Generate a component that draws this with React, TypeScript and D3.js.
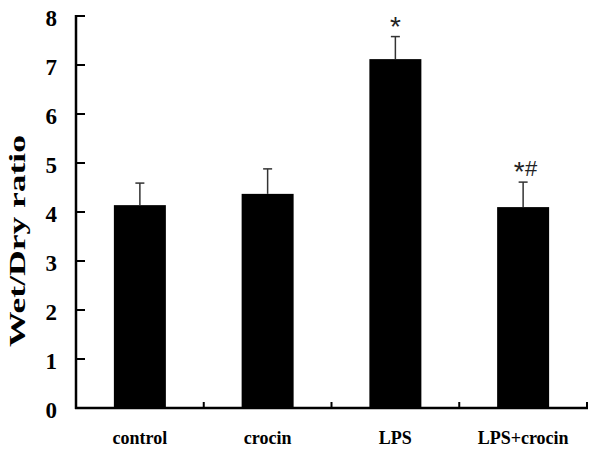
import React from "react";
import * as d3 from "d3";

const categories = ["control", "crocin", "LPS", "LPS+crocin"];
const means = [4.14, 4.37, 7.12, 4.1];
const errors = [0.45, 0.51, 0.46, 0.51];
const marks = ["", "", "*", "*#"];
const yTicks = [0, 1, 2, 3, 4, 5, 6, 7, 8];
const yLabel = "Wet/Dry ratio";

const W = 600;
const H = 452;
const left = 76;
const right = 587;
const top = 16;
const bottom = 408;

export default function App() {
  const x = d3
    .scaleBand<string>()
    .domain(categories)
    .range([left, right])
    .paddingInner(0.593)
    .paddingOuter(0.2965);
  const y = d3.scaleLinear().domain([0, 8]).range([bottom, top]);
  const step = x.step();
  const serif = "'Liberation Serif', 'Times New Roman', serif";
  const sans = "'Liberation Sans', Arial, sans-serif";

  return (
    <svg
      width={W}
      height={H}
      style={{ position: "absolute", left: 0, top: 0, background: "#fff" }}
    >
      {/* bars */}
      {categories.map((c, i) => (
        <rect
          key={c}
          x={x(c)}
          y={y(means[i])}
          width={x.bandwidth()}
          height={bottom - y(means[i])}
          fill="#000"
        />
      ))}
      {/* error bars */}
      {categories.map((c, i) => {
        const cx = (x(c) as number) + x.bandwidth() / 2;
        const yt = y(means[i] + errors[i]);
        return (
          <g key={c + "e"} stroke="#333" strokeWidth={1.5}>
            <line x1={cx} x2={cx} y1={y(means[i])} y2={yt} />
            <line x1={cx - 4.5} x2={cx + 4.5} y1={yt} y2={yt} />
          </g>
        );
      })}
      {/* significance marks */}
      {categories.map((c, i) => {
        const m = marks[i];
        if (!m) return null;
        const cx = (x(c) as number) + x.bandwidth() / 2;
        const yt = y(means[i] + errors[i]);
        const chars = m.split("");
        const offsets = chars.length === 1 ? [0] : [-4, 8];
        return (
          <g key={c + "m"} fill="#222" fontFamily={sans}>
            {chars.map((ch, k) =>
              ch === "*" ? (
                <text
                  key={k}
                  x={cx + offsets[k]}
                  y={yt - 1}
                  textAnchor="middle"
                  fontSize={28}
                >
                  {ch}
                </text>
              ) : (
                <text
                  key={k}
                  x={cx + offsets[k]}
                  y={yt - 6}
                  textAnchor="middle"
                  fontSize={22}
                >
                  {ch}
                </text>
              )
            )}
          </g>
        );
      })}
      {/* y axis */}
      <line x1={left} x2={left} y1={top - 1} y2={bottom + 1} stroke="#000" strokeWidth={2.5} />
      {yTicks.map((t) => (
        <g key={t}>
          <line x1={left} x2={left + 9} y1={y(t)} y2={y(t)} stroke="#000" strokeWidth={2} />
          <text
            x={57}
            y={y(t) + 2}
            textAnchor="end"
            dominantBaseline="central"
            fontFamily={serif}
            fontWeight="bold"
            fontSize={23}
            fill="#000"
          >
            {t}
          </text>
        </g>
      ))}
      {/* x axis */}
      <line x1={left - 1} x2={right + 1} y1={bottom} y2={bottom} stroke="#000" strokeWidth={2.5} />
      {categories.map((c, i) => {
        const bx = left + step * (i + 1);
        return (
          <line key={c + "t"} x1={bx} x2={bx} y1={bottom} y2={bottom - 6} stroke="#000" strokeWidth={2} />
        );
      })}
      {categories.map((c) => (
        <text
          key={c + "l"}
          x={(x(c) as number) + x.bandwidth() / 2}
          y={444}
          textAnchor="middle"
          fontFamily={serif}
          fontWeight="bold"
          fontSize={18}
          fill="#000"
        >
          {c}
        </text>
      ))}
      {/* y label */}
      <text
        transform={`translate(25, 241) rotate(-90)`}
        textAnchor="middle"
        fontFamily={serif}
        fontWeight="bold"
        fontSize={23}
        textLength={212}
        lengthAdjust="spacingAndGlyphs"
        fill="#000"
      >
        {yLabel}
      </text>
    </svg>
  );
}
